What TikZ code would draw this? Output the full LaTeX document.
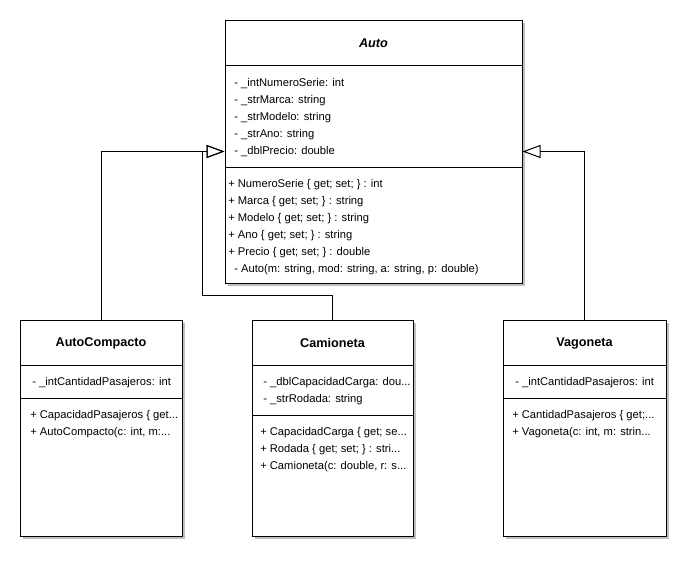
\documentclass[tikz,border=0pt]{standalone}
\usepackage{fontspec}
\setmainfont{Liberation Sans}
\usetikzlibrary{arrows.meta, fit, shadows}

\begin{document}
\begin{tikzpicture}[x=0.75pt, y=-0.75pt,
    classbox/.style={draw, fill=white, line width=0.75pt, inner sep=0pt,
      drop shadow={shadow xshift=2.25pt, shadow yshift=-2.25pt, fill=black!25, opacity=1}},
    classname/.style={font=\fontsize{9.5}{11}\selectfont\bfseries},
    member/.style={anchor=west, inner sep=0pt, yshift=-1pt, font=\fontsize{8.4}{9}\selectfont},
    inherit/.style={line width=0.75pt, -{Triangle[open, length=13.5pt, width=9.75pt]}}]
    \useasboundingbox (0,0) rectangle (690,561);

    % Auto
    \node[classbox, fit={(225,20) (522,283)}] (auto) {};
    \node[classname, font=\fontsize{9.5}{11}\selectfont\bfseries\itshape] (autoT) at (373.5,43) {Auto};
    \draw (auto.west |- 0,65) -- (auto.east |- 0,65);
    \draw (auto.west |- 0,167) -- (auto.east |- 0,167);
    \foreach \t [count=\i] in {{- \_intNumeroSerie: int}, {- \_strMarca: string},
        {- \_strModelo: string}, {- \_strAno: string}, {- \_dblPrecio: double}}
      \node[member] (autoA\i) at (234,65+17*\i) {\t};
    \foreach \x/\t [count=\i] in {228/{+ NumeroSerie \{ get; set; \} : int},
        228/{+ Marca \{ get; set; \} : string}, 228/{+ Modelo \{ get; set; \} : string},
        228/{+ Ano \{ get; set; \} : string}, 228/{+ Precio \{ get; set; \} : double},
        234/{- Auto(m: string, mod: string, a: string, p: double)}}
      \node[member] (autoM\i) at (\x,166+17*\i) {\t};

    % AutoCompacto
    \node[classbox, fit={(20,320) (182,536)}] (acomp) {};
    \node[classname] (acompT) at (101,343) {AutoCompacto};
    \draw (acomp.west |- 0,365) -- (acomp.east |- 0,365);
    \draw (acomp.west |- 0,398) -- (acomp.east |- 0,398);
    \node[member] (acompA1) at (32,381) {- \_intCantidadPasajeros: int};
    \node[member] (acompM1) at (30,414) {+ CapacidadPasajeros \{ get...};
    \node[member] (acompM2) at (30,431) {+ AutoCompacto(c: int, m:...};

    % Camioneta
    \node[classbox, fit={(252,320) (413,536)}] (cam) {};
    \node[classname] (camT) at (332.5,343) {Camioneta};
    \draw (cam.west |- 0,365) -- (cam.east |- 0,365);
    \draw (cam.west |- 0,415) -- (cam.east |- 0,415);
    \node[member] (camA1) at (263,381) {- \_dblCapacidadCarga: dou...};
    \node[member] (camA2) at (263,398) {- \_strRodada: string};
    \node[member] (camM1) at (260,431) {+ CapacidadCarga \{ get; se...};
    \node[member] (camM2) at (260,448) {+ Rodada \{ get; set; \} : stri...};
    \node[member] (camM3) at (260,465) {+ Camioneta(c: double, r: s...};

    % Vagoneta
    \node[classbox, fit={(503,320) (666,536)}] (vag) {};
    \node[classname] (vagT) at (584.5,343) {Vagoneta};
    \draw (vag.west |- 0,365) -- (vag.east |- 0,365);
    \draw (vag.west |- 0,398) -- (vag.east |- 0,398);
    \node[member] (vagA1) at (515,381) {- \_intCantidadPasajeros: int};
    \node[member] (vagM1) at (512,414) {+ CantidadPasajeros \{ get;...};
    \node[member] (vagM2) at (512,431) {+ Vagoneta(c: int, m: strin...};

    % herencia
    \coordinate (jn) at (202,295);
    \draw[inherit] (acomp.north) |- (auto.west);
    \draw[inherit] (cam.north) |- (jn) |- (auto.west);
    \draw[inherit] (vag.north) |- (auto.east);
\end{tikzpicture}
\end{document}
